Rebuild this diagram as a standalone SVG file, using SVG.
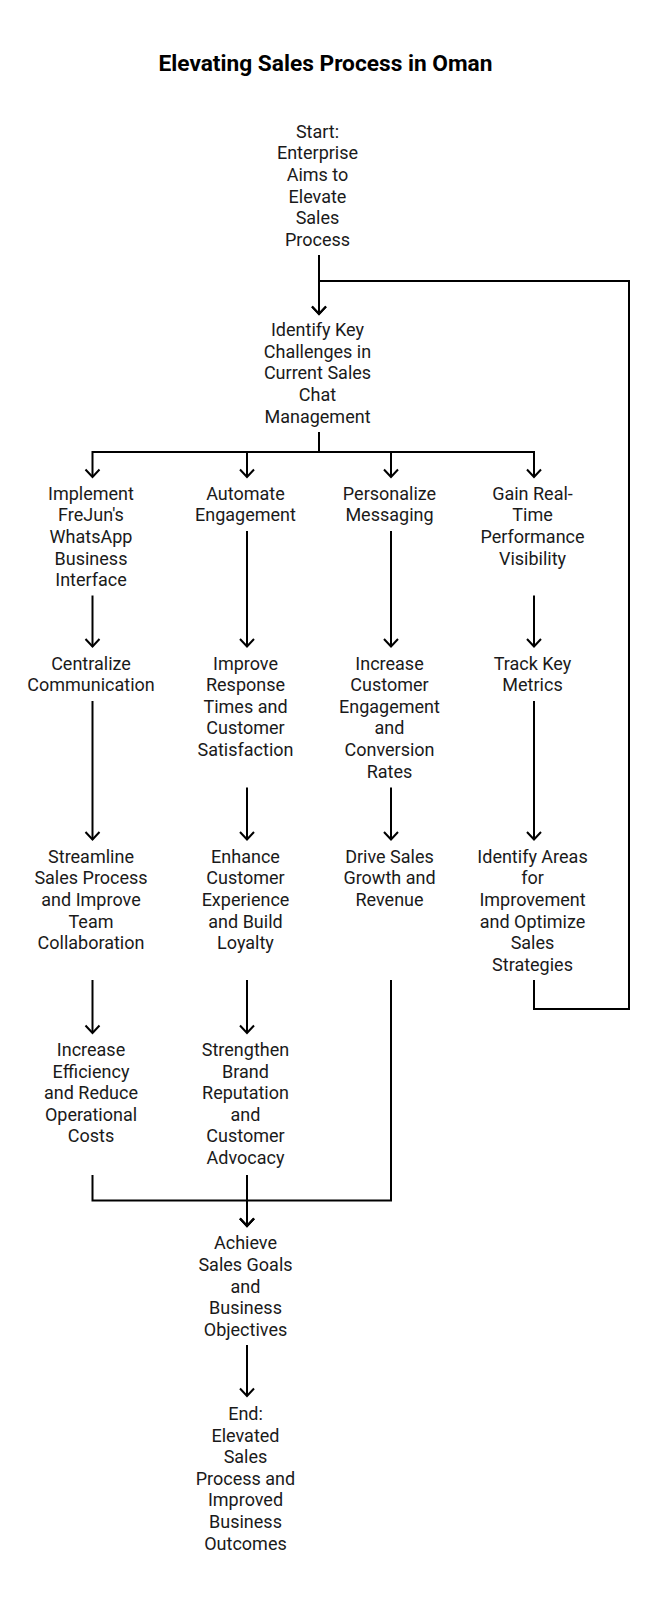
<svg xmlns="http://www.w3.org/2000/svg" width="651" height="1600" viewBox="0 0 651 1600">
<style>
  .bg { fill: #ffffff; }
  .title { font-family: Roboto, "Liberation Sans", sans-serif; font-size: 22.7px; font-weight: bold; fill: #000000; text-anchor: middle; }
  .lbl { font-family: Roboto, "Liberation Sans", sans-serif; font-size: 18px; fill: #1a1a1a; text-anchor: middle; }
  .edge { fill: none; stroke: #000000; stroke-width: 2; marker-end: url(#arr); }
</style>
<defs>
  <marker id="arr" viewBox="-9 -9 12 18" markerWidth="12" markerHeight="18" refX="0" refY="0" orient="auto" markerUnits="userSpaceOnUse">
    <path d="M-7.5,-7 L0,0 L-7.5,7" fill="none" stroke="#000000" stroke-width="2" stroke-linejoin="miter"/>
  </marker>
</defs>
<rect class="bg" x="0" y="0" width="651" height="1600"/>
<text class="title" x="325.5" y="71">Elevating Sales Process in Oman</text>

<g id="connectors">
  <path class="edge" d="M319,255 V314"/>
  <path class="edge" d="M534,980 V1009 H629 V281 H319 V314"/>
  <path class="edge" d="M319,432 V452 H92.5 V477"/>
  <path class="edge" d="M319,432 V452 H247 V477"/>
  <path class="edge" d="M319,432 V452 H391 V477"/>
  <path class="edge" d="M319,432 V452 H534 V477"/>
  <path class="edge" d="M92.5,595.5 V646.5"/>
  <path class="edge" d="M247,531 V646.5"/>
  <path class="edge" d="M391,531 V646.5"/>
  <path class="edge" d="M534,595.5 V646.5"/>
  <path class="edge" d="M92.5,701 V839.5"/>
  <path class="edge" d="M247,787.5 V839.5"/>
  <path class="edge" d="M391,787.5 V839.5"/>
  <path class="edge" d="M534,701 V839.5"/>
  <path class="edge" d="M92.5,980 V1033"/>
  <path class="edge" d="M247,980 V1033"/>
  <path class="edge" d="M92.5,1175 V1200.5 H247 V1226"/>
  <path class="edge" d="M391,980 V1200.5 H247 V1226"/>
  <path class="edge" d="M247,1175 V1226"/>
  <path class="edge" d="M247,1345 V1396"/>
</g>

<g id="start">
  <text class="lbl" x="317.5" y="137.7"><tspan x="317.5">Start:</tspan><tspan x="317.5" dy="21.6">Enterprise</tspan><tspan x="317.5" dy="21.6">Aims to</tspan><tspan x="317.5" dy="21.6">Elevate</tspan><tspan x="317.5" dy="21.6">Sales</tspan><tspan x="317.5" dy="21.6">Process</tspan></text>
</g>
<g id="identify">
  <text class="lbl" x="317.5" y="336.1"><tspan x="317.5">Identify Key</tspan><tspan x="317.5" dy="21.6">Challenges in</tspan><tspan x="317.5" dy="21.6">Current Sales</tspan><tspan x="317.5" dy="21.6">Chat</tspan><tspan x="317.5" dy="21.6">Management</tspan></text>
</g>

<g id="implement">
  <text class="lbl" x="91" y="499.7"><tspan x="91">Implement</tspan><tspan x="91" dy="21.6">FreJun's</tspan><tspan x="91" dy="21.6">WhatsApp</tspan><tspan x="91" dy="21.6">Business</tspan><tspan x="91" dy="21.6">Interface</tspan></text>
</g>
<g id="automate">
  <text class="lbl" x="245.5" y="499.7"><tspan x="245.5">Automate</tspan><tspan x="245.5" dy="21.6">Engagement</tspan></text>
</g>
<g id="personalize">
  <text class="lbl" x="389.5" y="499.7"><tspan x="389.5">Personalize</tspan><tspan x="389.5" dy="21.6">Messaging</tspan></text>
</g>
<g id="gain">
  <text class="lbl" x="532.5" y="499.7"><tspan x="532.5">Gain Real-</tspan><tspan x="532.5" dy="21.6">Time</tspan><tspan x="532.5" dy="21.6">Performance</tspan><tspan x="532.5" dy="21.6">Visibility</tspan></text>
</g>

<g id="centralize">
  <text class="lbl" x="91" y="669.5"><tspan x="91">Centralize</tspan><tspan x="91" dy="21.6">Communication</tspan></text>
</g>
<g id="improve">
  <text class="lbl" x="245.5" y="669.5"><tspan x="245.5">Improve</tspan><tspan x="245.5" dy="21.6">Response</tspan><tspan x="245.5" dy="21.6">Times and</tspan><tspan x="245.5" dy="21.6">Customer</tspan><tspan x="245.5" dy="21.6">Satisfaction</tspan></text>
</g>
<g id="increase-engagement">
  <text class="lbl" x="389.5" y="669.5"><tspan x="389.5">Increase</tspan><tspan x="389.5" dy="21.6">Customer</tspan><tspan x="389.5" dy="21.6">Engagement</tspan><tspan x="389.5" dy="21.6">and</tspan><tspan x="389.5" dy="21.6">Conversion</tspan><tspan x="389.5" dy="21.6">Rates</tspan></text>
</g>
<g id="track">
  <text class="lbl" x="532.5" y="669.5"><tspan x="532.5">Track Key</tspan><tspan x="532.5" dy="21.6">Metrics</tspan></text>
</g>

<g id="streamline">
  <text class="lbl" x="91" y="862.7"><tspan x="91">Streamline</tspan><tspan x="91" dy="21.6">Sales Process</tspan><tspan x="91" dy="21.6">and Improve</tspan><tspan x="91" dy="21.6">Team</tspan><tspan x="91" dy="21.6">Collaboration</tspan></text>
</g>
<g id="enhance">
  <text class="lbl" x="245.5" y="862.7"><tspan x="245.5">Enhance</tspan><tspan x="245.5" dy="21.6">Customer</tspan><tspan x="245.5" dy="21.6">Experience</tspan><tspan x="245.5" dy="21.6">and Build</tspan><tspan x="245.5" dy="21.6">Loyalty</tspan></text>
</g>
<g id="drive">
  <text class="lbl" x="389.5" y="862.7"><tspan x="389.5">Drive Sales</tspan><tspan x="389.5" dy="21.6">Growth and</tspan><tspan x="389.5" dy="21.6">Revenue</tspan></text>
</g>
<g id="identify-areas">
  <text class="lbl" x="532.5" y="862.7"><tspan x="532.5">Identify Areas</tspan><tspan x="532.5" dy="21.6">for</tspan><tspan x="532.5" dy="21.6">Improvement</tspan><tspan x="532.5" dy="21.6">and Optimize</tspan><tspan x="532.5" dy="21.6">Sales</tspan><tspan x="532.5" dy="21.6">Strategies</tspan></text>
</g>

<g id="efficiency">
  <text class="lbl" x="91" y="1056"><tspan x="91">Increase</tspan><tspan x="91" dy="21.6">Efficiency</tspan><tspan x="91" dy="21.6">and Reduce</tspan><tspan x="91" dy="21.6">Operational</tspan><tspan x="91" dy="21.6">Costs</tspan></text>
</g>
<g id="strengthen">
  <text class="lbl" x="245.5" y="1056"><tspan x="245.5">Strengthen</tspan><tspan x="245.5" dy="21.6">Brand</tspan><tspan x="245.5" dy="21.6">Reputation</tspan><tspan x="245.5" dy="21.6">and</tspan><tspan x="245.5" dy="21.6">Customer</tspan><tspan x="245.5" dy="21.6">Advocacy</tspan></text>
</g>

<g id="achieve">
  <text class="lbl" x="245.5" y="1249.3"><tspan x="245.5">Achieve</tspan><tspan x="245.5" dy="21.6">Sales Goals</tspan><tspan x="245.5" dy="21.6">and</tspan><tspan x="245.5" dy="21.6">Business</tspan><tspan x="245.5" dy="21.6">Objectives</tspan></text>
</g>
<g id="end">
  <text class="lbl" x="245.5" y="1420"><tspan x="245.5">End:</tspan><tspan x="245.5" dy="21.6">Elevated</tspan><tspan x="245.5" dy="21.6">Sales</tspan><tspan x="245.5" dy="21.6">Process and</tspan><tspan x="245.5" dy="21.6">Improved</tspan><tspan x="245.5" dy="21.6">Business</tspan><tspan x="245.5" dy="21.6">Outcomes</tspan></text>
</g>
</svg>
